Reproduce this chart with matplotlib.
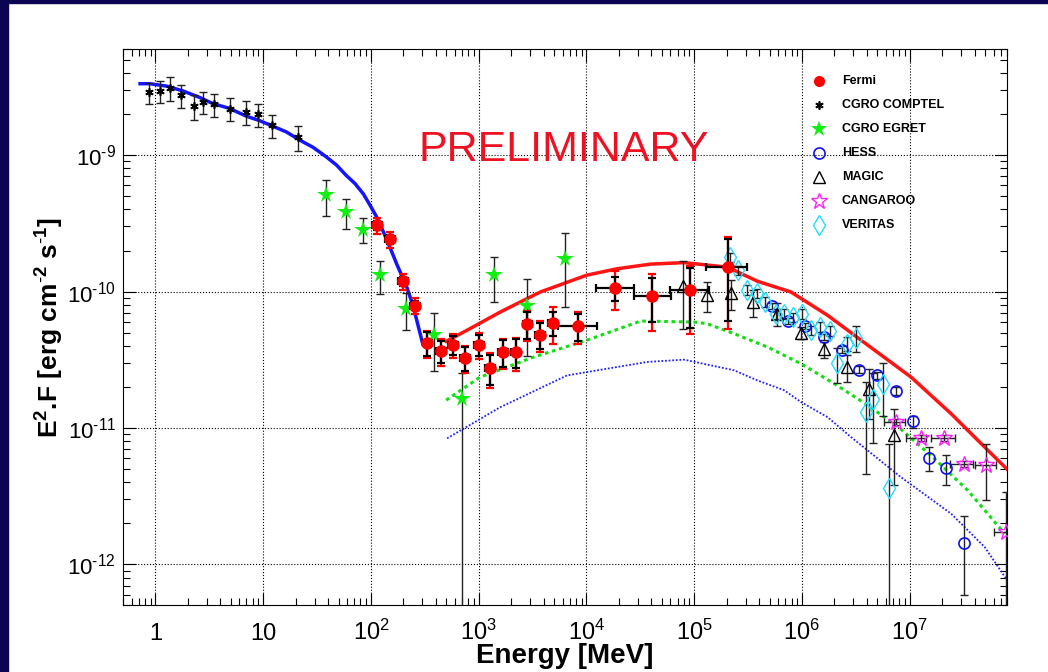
import numpy as np
import matplotlib
matplotlib.use("Agg")
import matplotlib.pyplot as plt
from matplotlib.ticker import LogLocator, FuncFormatter, NullFormatter, FixedLocator
from matplotlib.patches import Rectangle

plt.rcParams['font.family'] = ['Liberation Sans', 'DejaVu Sans']
plt.rcParams['mathtext.fontset'] = 'custom'
plt.rcParams['mathtext.rm'] = 'Liberation Sans'
plt.rcParams['mathtext.it'] = 'Liberation Sans:italic'
plt.rcParams['mathtext.bf'] = 'Liberation Sans:bold'

# ---- Fermi (MeV, erg cm-2 s-1) ----
fermi_e = np.array([114, 150, 200, 257, 334, 445, 574, 750, 1000, 1280, 1680, 2200,
                    2830, 3700, 4850, 8400, 18300, 40800, 91400, 204000])
fermi_elo = np.array([103, 135, 180, 232, 301, 401, 518, 676, 902, 1154, 1515, 1984,
                      2552, 3336, 4373, 5500, 12300, 27400, 59600, 130000])
fermi_ehi = np.array([126, 166, 222, 285, 370, 493, 636, 832, 1109, 1420, 1863, 2440,
                      3139, 4103, 5379, 12500, 27500, 61000, 136000, 310000])
fermi_f = np.array([30.6, 24.1, 11.9, 7.9, 4.2, 3.67, 4.08, 3.26, 4.08, 2.75, 3.6, 3.6,
                    5.8, 4.83, 5.89, 5.6, 10.7, 9.3, 10.2, 15.1]) * 1e-11
fermi_stat = np.array([0.08, 0.08, 0.08, 0.08, 0.2, 0.19, 0.16, 0.2, 0.18, 0.25, 0.22, 0.24,
                       0.22, 0.22, 0.2, 0.22, 0.2, 0.36, 0.47, 0.6])
fermi_sys = np.array([0.14, 0.14, 0.14, 0.14, 0.23, 0.22, 0.2, 0.23, 0.21, 0.28, 0.25, 0.27,
                      0.25, 0.25, 0.3, 0.26, 0.32, 0.45, 0.52, 0.65])

# ---- CGRO COMPTEL ----
comptel_e = np.array([0.87, 1.11, 1.37, 1.73, 2.26, 2.78, 3.47, 4.91, 6.98, 9.03, 12.1, 21.2])
comptel_f = np.array([2.88, 2.95, 3.12, 2.75, 2.30, 2.46, 2.37, 2.19, 2.07, 2.00, 1.66, 1.35]) * 1e-9
comptel_err = np.array([0.18, 0.18, 0.2, 0.19, 0.21, 0.19, 0.19, 0.19, 0.2, 0.19, 0.19, 0.21])

# ---- CGRO EGRET ----
egret_e = np.array([38.1, 58.6, 84.0, 121, 211, 387, 705, 1390, 2830, 6290])
egret_f = np.array([5.09, 3.84, 2.85, 1.32, 0.75, 0.478, 0.162, 1.32, 0.79, 1.72]) * 1e-10
egret_err_up = np.array([0.3, 0.25, 0.21, 0.27, 0.3, 0.45, 0.55, 0.36, 0.57, 0.55])
egret_err_dn = np.array([0.3, 0.25, 0.21, 0.27, 0.3, 0.45, 1.0, 0.36, 0.57, 0.55])

# ---- HESS ----
hess_e = np.array([5.33e5, 7.5e5, 1.07e6, 1.61e6, 2.34e6, 3.41e6, 4.99e6, 7.39e6,
                   1.07e7, 1.51e7, 2.15e7, 3.16e7])
hess_f = np.array([7.8, 6.08, 5.56, 4.65, 3.75, 2.68, 2.43, 1.87, 1.12, 0.605, 0.508, 0.143]) * 1e-11
hess_err = np.array([0.05, 0.05, 0.05, 0.05, 0.06, 0.06, 0.06, 0.07, 0.1, 0.2, 0.25, 0.58])

# ---- MAGIC ----
magic_e = np.array([7.87e4, 1.31e5, 2.19e5, 3.55e5, 5.85e5, 9.8e5, 1.61e6, 2.62e6, 4.23e6, 7.1e6])
magic_f = np.array([11.0, 9.4, 9.77, 8.4, 6.9, 4.97, 3.77, 2.8, 1.94, 0.883]) * 1e-11
magic_err = np.array([0.52, 0.25, 0.25, 0.23, 0.19, 0.1, 0.13, 0.23, 0.4, 0.57])

# ---- CANGAROO ----
cangaroo_e = np.array([7.48e6, 1.26e7, 2.07e7, 3.17e7, 5.15e7, 7.9e7])
cangaroo_elo = np.array([5.75e6, 9.27e6, 1.59e7, 2.35e7, 4.0e7, 6.07e7])
cangaroo_ehi = np.array([9.08e6, 1.42e7, 2.65e7, 3.87e7, 6.38e7, 9.5e7])
cangaroo_f = np.array([11.0, 8.5, 8.5, 5.47, 5.32, 1.72]) * 1e-12
cangaroo_err = np.array([0.05, 0.05, 0.05, 0.05, 0.44, 0.96])

# ---- VERITAS ----
veritas_e = np.array([2.15e5, 2.55e5, 3.12e5, 3.81e5, 4.56e5, 5.73e5, 6.85e5, 8.2e5, 1.0e6,
                      1.21e6, 1.47e6, 1.82e6, 2.12e6, 2.62e6, 3.18e6, 3.89e6, 4.61e6,
                      5.71e6, 6.46e6])
veritas_f = np.array([17.9, 14.3, 10.3, 9.7, 8.4, 6.9, 6.9, 6.5, 6.9, 5.2, 5.5, 5.14, 2.99,
                      4.15, 4.6, 1.32, 1.64, 2.11, 0.363]) * 1e-11
veritas_err = np.array([0.08, 0.08, 0.08, 0.08, 0.08, 0.08, 0.08, 0.08, 0.08, 0.08, 0.08,
                        0.08, 0.28, 0.12, 0.22, 0.65, 0.53, 0.42, 1.1])

# ---- model curves ----
fit_low_e = np.array([0.72, 0.88, 1.26, 1.79, 2.57, 3.4, 4.88, 6.98, 9.27, 12.3, 16.4, 21.8,
                      29.1, 38.6, 48, 59, 71, 85, 98, 113, 139, 173, 215, 248, 276, 302])
fit_low_f = np.array([3.34e-9, 3.34e-9, 3.21e-9, 2.96e-9, 2.65e-9, 2.39e-9, 2.2e-9, 1.93e-9,
                      1.79e-9, 1.63e-9, 1.48e-9, 1.29e-9, 1.14e-9, 9.7e-10, 8.45e-10, 7.1e-10,
                      6.2e-10, 5.2e-10, 4.3e-10, 3.52e-10, 2.45e-10, 1.6e-10, 1.08e-10,
                      7.7e-11, 5.5e-11, 4.15e-11])

model_a_e = np.array([499, 777, 1585, 3730, 10100, 19300, 39400, 80500, 2.04e5, 3.87e5,
                      7.9e5, 1.73e6, 3.54e6, 1.03e7, 2.43e7, 5.33e7, 8.2e7])
model_a_f = np.array([4.32, 5.2, 7.08, 9.93, 13.2, 14.7, 15.9, 16.3, 15.1, 11.9, 9.93,
                      6.7, 4.4, 2.36, 1.27, 0.685, 0.49]) * 1e-11

model_b_e = np.array([499, 1030, 3240, 10100, 31800, 99600, 1.31e5, 2.34e5, 4.79e5,
                      9.8e5, 2e6, 4.08e6, 8.3e6, 1.7e7, 3.47e7, 7.62e7])
model_b_f = np.array([1.6, 2.36, 3.31, 4.4, 6.08, 5.98, 5.82, 4.92, 3.92, 2.96, 2.11,
                      1.47, 0.98, 0.595, 0.348, 0.168]) * 1e-11

model_c_e = np.array([509, 1585, 6610, 36700, 80500, 2.34e5, 3.87e5, 6.85e5, 9.8e5,
                      1.73e6, 2.86e6, 8.3e6, 2.43e7, 4.97e7, 7.9e7])
model_c_f = np.array([0.84, 1.42, 2.43, 3.05, 3.17, 2.65, 2.23, 1.89, 1.55, 1.2, 0.857,
                      0.436, 0.235, 0.134, 0.078]) * 1e-11

navy = '#0b0450'
err_col = '#222222'

fig = plt.figure(figsize=(10.48, 6.72), dpi=100)
fig.add_artist(Rectangle((0, 0), 8 / 1048, 1, transform=fig.transFigure, color=navy, zorder=0))
fig.add_artist(Rectangle((0, 1 - 3 / 672), 1, 3 / 672, transform=fig.transFigure, color=navy, zorder=0))

ax = fig.add_axes([0.11737, 0.09896, 0.84351, 0.82813])
ax.set_xscale('log')
ax.set_yscale('log')
ax.set_xlim(0.5, 8e7)
ax.set_ylim(5e-13, 6e-9)

# curves
ax.plot(fit_low_e, fit_low_f, color='#1414ff', lw=2.5, zorder=2)
ax.plot(model_a_e, model_a_f, color='#ff1414', lw=2.5, zorder=2)
ax.plot(model_b_e, model_b_f, color='#10e010', lw=2.2, ls=(0, (1.2, 1.2)), zorder=2)
ax.plot(model_c_e, model_c_f, color='#2020ff', lw=1.3, ls=(0, (1, 1)), zorder=2)

# COMPTEL
ax.errorbar(comptel_e, comptel_f, yerr=comptel_f * comptel_err, fmt='none', ecolor=err_col,
            elinewidth=1, capsize=3, capthick=1, zorder=3)
ax.plot(comptel_e, comptel_f, ls='none', marker=(6, 2, 0), color='black', ms=6, mew=1.2, zorder=4)

# EGRET
ax.errorbar(egret_e, egret_f, yerr=[egret_f * egret_err_dn, egret_f * egret_err_up], fmt='none',
            ecolor=err_col, elinewidth=1, capsize=3, capthick=1, zorder=3)
ax.plot(egret_e, egret_f, ls='none', marker='*', color='#11ee11', ms=13, mew=0, zorder=4)

# HESS
ax.errorbar(hess_e, hess_f, yerr=hess_f * hess_err, fmt='none', ecolor=err_col,
            elinewidth=1, capsize=3, capthick=1, zorder=3)
ax.plot(hess_e, hess_f, ls='none', marker='o', mfc='none', mec='#1010ee', ms=8, mew=1.2, zorder=4)

# MAGIC
ax.errorbar(magic_e, magic_f, yerr=magic_f * magic_err, fmt='none', ecolor=err_col,
            elinewidth=1, capsize=3, capthick=1, zorder=3)
ax.plot(magic_e, magic_f, ls='none', marker='^', mfc='none', mec='black', ms=9, mew=1, zorder=4)

# CANGAROO
ax.errorbar(cangaroo_e, cangaroo_f,
            xerr=[cangaroo_e - cangaroo_elo, cangaroo_ehi - cangaroo_e],
            yerr=cangaroo_f * cangaroo_err, fmt='none', ecolor=err_col,
            elinewidth=1, capsize=3, capthick=1, zorder=3)
ax.plot(cangaroo_e, cangaroo_f, ls='none', marker='*', mfc='none', mec='#ff22ff', ms=12, mew=1, zorder=4)

# VERITAS
ax.errorbar(veritas_e, veritas_f, yerr=veritas_f * veritas_err, fmt='none', ecolor=err_col,
            elinewidth=1, capsize=3, capthick=1, zorder=3)
ax.plot(veritas_e, veritas_f, ls='none', marker='d', mfc='none', mec='#22ddff', ms=10, mew=1, zorder=4)

# Fermi: systematic (red) under statistical (black)
ax.errorbar(fermi_e, fermi_f, yerr=fermi_f * fermi_sys, fmt='none', ecolor='red',
            elinewidth=1.6, capsize=3, capthick=1.6, zorder=5)
ax.errorbar(fermi_e, fermi_f, xerr=[fermi_e - fermi_elo, fermi_ehi - fermi_e],
            yerr=fermi_f * fermi_stat, fmt='none', ecolor='black',
            elinewidth=1.6, capsize=3, capthick=1.6, zorder=6)
ax.plot(fermi_e, fermi_f, ls='none', marker='o', color='red', ms=8, zorder=7)

# legend
entries = [
    ('Fermi', dict(marker='o', color='red', ms=7)),
    ('CGRO COMPTEL', dict(marker=(6, 2, 0), color='black', ms=6, mew=1.2)),
    ('CGRO EGRET', dict(marker='*', color='#11ee11', ms=12, mew=0)),
    ('HESS', dict(marker='o', mfc='none', mec='#1010ee', ms=8, mew=1.2)),
    ('MAGIC', dict(marker='^', mfc='none', mec='black', ms=8, mew=1)),
    ('CANGAROO', dict(marker='*', mfc='none', mec='#ff22ff', ms=12, mew=1)),
    ('VERITAS', dict(marker='d', mfc='none', mec='#22ddff', ms=10, mew=1)),
]
for i, (lab, kw) in enumerate(entries):
    y = 0.9425 - 0.0432 * i
    ax.plot([0.787], [y], ls='none', transform=ax.transAxes, clip_on=False, zorder=8, **kw)
    ax.text(0.813, y, lab, transform=ax.transAxes, fontsize=9, fontweight='bold', va='center')

ax.text(0.499, 0.8185, 'PRELIMINARY', transform=ax.transAxes, fontsize=31, color='#ee1122',
        ha='center', va='center')

# axes styling
ax.grid(True, which='major', ls=':', color='black', lw=0.8)
ax.xaxis.set_major_locator(FixedLocator([1, 10, 1e2, 1e3, 1e4, 1e5, 1e6, 1e7]))
ax.xaxis.set_minor_locator(LogLocator(base=10, subs=np.arange(2, 10), numticks=100))
ax.yaxis.set_major_locator(FixedLocator([1e-12, 1e-11, 1e-10, 1e-9]))
ax.yaxis.set_minor_locator(LogLocator(base=10, subs=np.arange(2, 10), numticks=100))


def xfmt(v, pos):
    e = int(round(np.log10(v)))
    if e == 0:
        return '1'
    if e == 1:
        return '10'
    return r'$10^{%d}$' % e


def yfmt(v, pos):
    return r'$10^{\text{-}%d}$' % abs(int(round(np.log10(v))))


ax.xaxis.set_major_formatter(FuncFormatter(xfmt))
ax.yaxis.set_major_formatter(FuncFormatter(yfmt))
ax.xaxis.set_minor_formatter(NullFormatter())
ax.yaxis.set_minor_formatter(NullFormatter())
ax.tick_params(which='both', direction='in', top=True, right=True, width=0.8)
ax.tick_params(axis='x', labelsize=17)
ax.tick_params(axis='y', labelsize=16)
ax.tick_params(which='major', length=9)
ax.tick_params(which='minor', length=5)
ax.tick_params(axis='x', which='major', pad=25)
ax.tick_params(axis='y', which='major', pad=5)
for t in ax.xaxis.get_major_ticks():
    t.label1.set_verticalalignment('baseline')

ax.set_xlabel('Energy [MeV]', fontsize=20, fontweight='bold')
ax.xaxis.set_label_coords(0.5, -0.068)
ax.set_ylabel(r'E$^{\mathbf{2}}$.F [erg cm$^{\mathbf{\text{-}2}}$ s$^{\mathbf{\text{-}1}}$]',
              fontsize=19, fontweight='bold')
ax.yaxis.set_label_coords(-0.064, 0.5)

fig.savefig('out.png', dpi=100)
